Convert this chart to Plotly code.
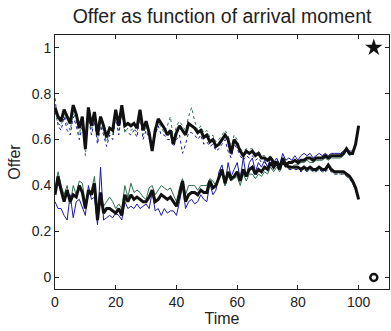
import plotly.graph_objects as go

time = list(range(0, 101))

upper_mean = [0.74, 0.70, 0.68, 0.73, 0.70, 0.67, 0.75, 0.71, 0.65, 0.70,
              0.56, 0.74, 0.66, 0.72, 0.62, 0.70, 0.66, 0.61, 0.65, 0.64,
              0.73, 0.66, 0.75, 0.66, 0.67, 0.66, 0.67, 0.65, 0.73, 0.64,
              0.68, 0.63, 0.55, 0.64, 0.69, 0.67, 0.65, 0.62, 0.64, 0.58,
              0.63, 0.66, 0.64, 0.62, 0.67, 0.66, 0.65, 0.63, 0.64, 0.61,
              0.62, 0.59, 0.60, 0.57, 0.58, 0.60, 0.62, 0.60, 0.54, 0.60,
              0.58, 0.55, 0.53, 0.55, 0.54, 0.55, 0.53, 0.54, 0.52, 0.52,
              0.51, 0.52, 0.50, 0.50, 0.49, 0.50, 0.49, 0.48, 0.48, 0.48,
              0.48, 0.47, 0.48, 0.47, 0.48, 0.47, 0.47, 0.48, 0.47, 0.47,
              0.49, 0.47, 0.46, 0.46, 0.46, 0.46, 0.45, 0.44, 0.42, 0.39,
              0.34]

upper_blue = [0.78, 0.66, 0.64, 0.70, 0.64, 0.62, 0.70, 0.66, 0.60, 0.66,
              0.58, 0.70, 0.62, 0.68, 0.58, 0.66, 0.62, 0.57, 0.62, 0.60,
              0.70, 0.62, 0.72, 0.64, 0.63, 0.62, 0.64, 0.61, 0.70, 0.60,
              0.64, 0.60, 0.57, 0.62, 0.66, 0.62, 0.62, 0.60, 0.60, 0.57,
              0.60, 0.62, 0.54, 0.58, 0.63, 0.63, 0.62, 0.60, 0.62, 0.58,
              0.59, 0.57, 0.58, 0.55, 0.56, 0.58, 0.60, 0.55, 0.52, 0.58,
              0.56, 0.53, 0.51, 0.53, 0.52, 0.53, 0.51, 0.52, 0.50, 0.50,
              0.49, 0.50, 0.49, 0.49, 0.48, 0.49, 0.48, 0.47, 0.47, 0.47,
              0.47, 0.46, 0.47, 0.46, 0.47, 0.46, 0.46, 0.47, 0.46, 0.46,
              0.47, 0.46, 0.45, 0.45, 0.45, 0.45, 0.44, 0.43, 0.41, 0.38,
              0.34]

upper_green = [0.72, 0.67, 0.66, 0.71, 0.67, 0.64, 0.72, 0.68, 0.62, 0.69,
               0.53, 0.72, 0.64, 0.70, 0.60, 0.68, 0.63, 0.59, 0.63, 0.62,
               0.71, 0.64, 0.73, 0.63, 0.65, 0.64, 0.65, 0.63, 0.71, 0.62,
               0.66, 0.61, 0.56, 0.63, 0.68, 0.65, 0.63, 0.66, 0.70, 0.60,
               0.66, 0.68, 0.66, 0.64, 0.70, 0.74, 0.68, 0.64, 0.66, 0.63,
               0.64, 0.61, 0.62, 0.59, 0.60, 0.62, 0.64, 0.62, 0.56, 0.62,
               0.60, 0.56, 0.55, 0.56, 0.56, 0.56, 0.54, 0.55, 0.53, 0.53,
               0.52, 0.53, 0.51, 0.51, 0.50, 0.51, 0.49, 0.49, 0.48, 0.48,
               0.48, 0.47, 0.47, 0.46, 0.47, 0.46, 0.46, 0.47, 0.46, 0.46,
               0.48, 0.46, 0.45, 0.45, 0.45, 0.45, 0.44, 0.43, 0.41, 0.38,
               0.34]

lower_mean = [0.36, 0.44, 0.38, 0.33, 0.38, 0.33, 0.36, 0.35, 0.40, 0.37,
              0.30, 0.38, 0.36, 0.41, 0.25, 0.37, 0.28, 0.30, 0.30, 0.29,
              0.28, 0.30, 0.27, 0.36, 0.33, 0.36, 0.34, 0.35, 0.34, 0.33,
              0.33, 0.35, 0.38, 0.33, 0.34, 0.36, 0.35, 0.34, 0.35, 0.33,
              0.31, 0.36, 0.42, 0.33, 0.36, 0.37, 0.37, 0.36, 0.38, 0.37,
              0.37, 0.42, 0.39, 0.40, 0.44, 0.47, 0.41, 0.46, 0.43, 0.44,
              0.46, 0.42, 0.47, 0.44, 0.47, 0.48, 0.45, 0.47, 0.46, 0.48,
              0.47, 0.50, 0.48, 0.50, 0.47, 0.52, 0.49, 0.50, 0.50, 0.51,
              0.50, 0.51, 0.51, 0.52, 0.52, 0.51, 0.52, 0.52, 0.52, 0.53,
              0.52, 0.53, 0.53, 0.53, 0.53, 0.54, 0.56, 0.54, 0.54, 0.58,
              0.66]

lower_blue = [0.33, 0.30, 0.30, 0.27, 0.25, 0.36, 0.26, 0.33, 0.34, 0.30,
              0.27, 0.40, 0.34, 0.35, 0.23, 0.48, 0.25, 0.26, 0.27, 0.26,
              0.28, 0.27, 0.25, 0.33, 0.30, 0.31, 0.30, 0.32, 0.30, 0.31,
              0.32, 0.30, 0.37, 0.29, 0.30, 0.27, 0.30, 0.28, 0.29, 0.29,
              0.27, 0.33, 0.40, 0.30, 0.33, 0.34, 0.32, 0.33, 0.36, 0.34,
              0.33, 0.41, 0.36, 0.38, 0.46, 0.49, 0.40, 0.50, 0.44, 0.47,
              0.50, 0.43, 0.52, 0.44, 0.50, 0.52, 0.46, 0.50, 0.48, 0.51,
              0.48, 0.52, 0.50, 0.52, 0.49, 0.54, 0.51, 0.52, 0.51, 0.53,
              0.51, 0.53, 0.54, 0.53, 0.54, 0.52, 0.53, 0.54, 0.53, 0.54,
              0.53, 0.54, 0.54, 0.54, 0.54, 0.55, 0.56, 0.55, 0.55, 0.58,
              0.66]

lower_green = [0.38, 0.46, 0.40, 0.36, 0.40, 0.32, 0.40, 0.36, 0.42, 0.41,
               0.32, 0.37, 0.38, 0.44, 0.27, 0.33, 0.31, 0.33, 0.35, 0.33,
               0.30, 0.32, 0.30, 0.40, 0.35, 0.41, 0.37, 0.38, 0.37, 0.35,
               0.34, 0.39, 0.40, 0.36, 0.38, 0.40, 0.39, 0.38, 0.39, 0.36,
               0.33, 0.39, 0.43, 0.36, 0.40, 0.40, 0.40, 0.38, 0.40, 0.40,
               0.40, 0.43, 0.42, 0.40, 0.43, 0.45, 0.40, 0.44, 0.42, 0.43,
               0.44, 0.40, 0.45, 0.42, 0.45, 0.45, 0.43, 0.45, 0.44, 0.46,
               0.45, 0.48, 0.46, 0.48, 0.46, 0.50, 0.48, 0.49, 0.48, 0.49,
               0.49, 0.50, 0.50, 0.51, 0.50, 0.50, 0.51, 0.51, 0.51, 0.52,
               0.51, 0.52, 0.52, 0.52, 0.52, 0.53, 0.55, 0.53, 0.54, 0.58,
               0.66]

star_point = (105, 1)
circle_point = (105, 0)

x_ticks = [0, 20, 40, 60, 80, 100]
y_ticks = [0, 0.2, 0.4, 0.6, 0.8, 1]
y_tick_labels = ["0", "0.2", "0.4", "0.6", "0.8", "1"]

BLUE = "#1a1aa0"
GREEN = "#2f7050"
FONT = "Liberation Sans, Arial, Helvetica, sans-serif"

fig = go.Figure()

fig.add_trace(go.Scatter(x=time, y=upper_blue, mode="lines",
                         line=dict(color=BLUE, width=1, dash="dot"), showlegend=False))
fig.add_trace(go.Scatter(x=time, y=upper_green, mode="lines",
                         line=dict(color=GREEN, width=1, dash="dot"), showlegend=False))
fig.add_trace(go.Scatter(x=time, y=lower_blue, mode="lines",
                         line=dict(color=BLUE, width=1), showlegend=False))
fig.add_trace(go.Scatter(x=time, y=lower_green, mode="lines",
                         line=dict(color=GREEN, width=1), showlegend=False))
fig.add_trace(go.Scatter(x=time, y=upper_mean, mode="lines",
                         line=dict(color="#111111", width=3), showlegend=False))
fig.add_trace(go.Scatter(x=time, y=lower_mean, mode="lines",
                         line=dict(color="#111111", width=3), showlegend=False))

fig.add_trace(go.Scatter(x=[star_point[0]], y=[star_point[1]], mode="markers",
                         marker=dict(symbol="star", size=13, color="#111111"),
                         showlegend=False))
fig.add_trace(go.Scatter(x=[circle_point[0]], y=[circle_point[1]], mode="markers",
                         marker=dict(symbol="circle-open", size=7, color="#111111",
                                     line=dict(width=2.5, color="#111111")),
                         showlegend=False))

axis_common = dict(showgrid=False, zeroline=False, showline=True, linecolor="#222222",
                   linewidth=1, mirror="ticks", ticks="inside", ticklen=4,
                   tickcolor="#222222", tickfont=dict(family=FONT, size=14, color="#222222"))

fig.update_layout(
    width=391, height=331,
    margin=dict(l=55, r=2, t=35, b=42),
    paper_bgcolor="white", plot_bgcolor="white",
    font=dict(family=FONT, color="#222222"),
    title=dict(text="Offer as function of arrival moment", x=0.568, xanchor="center",
               y=0.952, yanchor="middle", font=dict(family=FONT, size=19.5, color="#222222")),
    xaxis=dict(range=[0, 110], tickvals=x_ticks,
               title=dict(text="Time", standoff=1, font=dict(family=FONT, size=16)),
               **axis_common),
    yaxis=dict(range=[-0.05, 1.055], tickvals=y_ticks, ticktext=y_tick_labels,
               title=dict(text="Offer", standoff=7, font=dict(family=FONT, size=16)),
               **axis_common),
)

fig.write_html("out.html")
